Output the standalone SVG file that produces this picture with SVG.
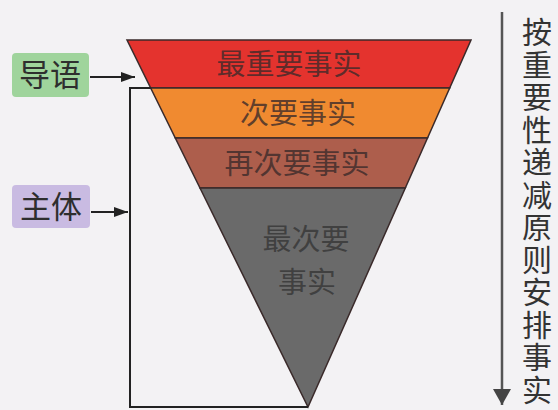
<svg xmlns="http://www.w3.org/2000/svg" width="558" height="410" viewBox="0 0 558 410">
<defs>
<style>
.cjk{font-family:"Noto Sans CJK SC","Noto Sans CJK JP",sans-serif;}
.band{stroke:#3a2a2a;stroke-width:1.5;}
.bt{font-size:29px;fill:#3a2a2a;fill-opacity:0.8;text-anchor:middle;}
.lbl{font-size:31px;fill:#2e2e2e;text-anchor:middle;}
.conn{stroke:#222;stroke-width:2;fill:none;}
</style>
<marker id="ah" viewBox="0 0 10 10" refX="10" refY="5" markerWidth="14" markerHeight="10" orient="auto" markerUnits="userSpaceOnUse" preserveAspectRatio="none">
<path d="M0,0 L10,5 L0,10 z" fill="#222"/>
</marker>
<marker id="ah2" viewBox="0 0 10 10" refX="10" refY="5" markerWidth="16" markerHeight="18" orient="auto" markerUnits="userSpaceOnUse" preserveAspectRatio="none">
<path d="M0,0 L10,5 L0,10 z" fill="#444"/>
</marker>
</defs>
<rect width="558" height="410" fill="#f3f2f4"/>
<g id="band1">
<polygon class="band" points="127,40 471,40 449.7,88 150.7,88" fill="#e4332e"/>
<text class="cjk bt" x="289" y="75">最重要事实</text>
</g>
<g id="band2">
<polygon class="band" points="150.7,88 449.7,88 427.5,138 175.3,138" fill="#f08a30"/>
<text class="cjk bt" x="298" y="124">次要事实</text>
</g>
<g id="band3">
<polygon class="band" points="175.3,138 427.5,138 405.3,188 200,188" fill="#ad5e4c"/>
<text class="cjk bt" x="297" y="174">再次要事实</text>
</g>
<g id="band4">
<polygon class="band" points="200,188 405.3,188 308,407" fill="#6a6a6a"/>
<text class="cjk bt" x="306" y="250" style="fill:#333;fill-opacity:0.75">最次要</text>
<text class="cjk bt" x="307" y="293" style="fill:#333;fill-opacity:0.75">事实</text>
</g>
<g id="lead">
<rect x="12" y="53" width="77" height="44" rx="4" fill="#9fd49c"/>
<text class="cjk lbl" x="50" y="86">导语</text>
</g>
<g id="body">
<rect x="12" y="185" width="78" height="43" rx="4" fill="#c9bbe2"/>
<text class="cjk lbl" x="51" y="218">主体</text>
</g>
<g id="axis">
<text class="cjk" x="537" y="17" style="writing-mode:vertical-rl;font-size:30px;letter-spacing:2.5px;fill:#333">按重要性递减原则安排事实</text>
</g>
<g id="connectors">
<line class="conn" x1="90" y1="77" x2="135" y2="77" marker-end="url(#ah)"/>
<line class="conn" x1="91" y1="212" x2="128" y2="212" marker-end="url(#ah)"/>
<path class="conn" d="M150.7,88 H130 V407 H308"/>
<line x1="502" y1="12" x2="502" y2="405" stroke="#555" stroke-width="2.5" marker-end="url(#ah2)"/>
</g>
</svg>
